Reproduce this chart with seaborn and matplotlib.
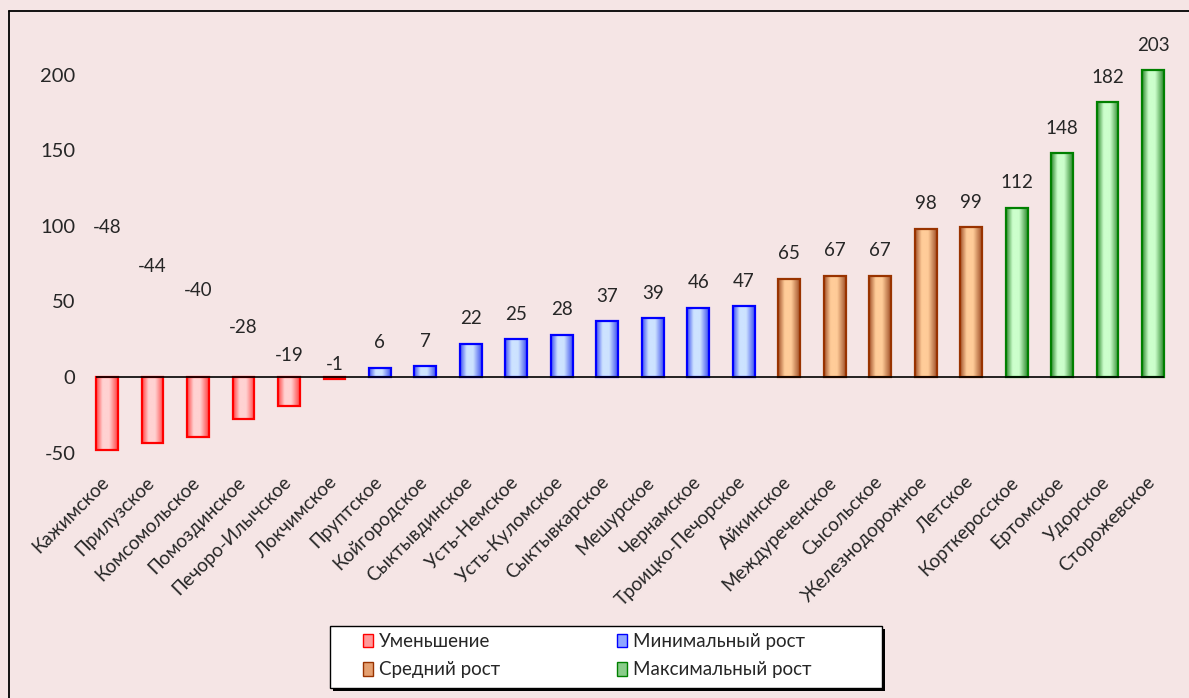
import numpy as np
import pandas as pd
import matplotlib
matplotlib.use('Agg')
import matplotlib.pyplot as plt
import matplotlib.transforms as mtransforms
import seaborn as sns
from matplotlib.colors import LinearSegmentedColormap
from matplotlib.patches import Patch, Rectangle
from matplotlib.lines import Line2D

# données
names = ['Кажимское', 'Прилузское', 'Комсомольское', 'Помоздинское', 'Печоро-Илычское',
         'Локчимское', 'Пруптское', 'Койгородское', 'Сыктывдинское', 'Усть-Немское',
         'Усть-Куломское', 'Сыктывкарское', 'Мешурское', 'Чернамское', 'Троицко-Печорское',
         'Айкинское', 'Междуреченское', 'Сысольское', 'Железнодорожное', 'Летское',
         'Корткеросское', 'Ертомское', 'Удорское', 'Сторожевское']
values = [-48, -44, -40, -28, -19, -1, 6, 7, 22, 25, 28, 37, 39, 46, 47,
          65, 67, 67, 98, 99, 112, 148, 182, 203]
groups = (['Уменьшение'] * 6 + ['Минимальный рост'] * 9 +
          ['Средний рост'] * 5 + ['Максимальный рост'] * 4)
legend_col1 = ['Уменьшение', 'Средний рост']
legend_col2 = ['Минимальный рост', 'Максимальный рост']
yticks = [-50, 0, 50, 100, 150, 200]

# couleurs: bord, côté foncé, centre clair
styles = {
    'Уменьшение': ('#FF0000', '#FF4545', '#FFD2D2'),
    'Минимальный рост': ('#0000FF', '#3F52F0', '#CDE3FF'),
    'Средний рост': ('#993300', '#A2522A', '#FFCC99'),
    'Максимальный рост': ('#008000', '#2E8A2E', '#CCFFCC'),
}
legend_fill = {
    'Уменьшение': '#FF9A9A',
    'Минимальный рост': '#8FA6FF',
    'Средний рост': '#E5A070',
    'Максимальный рост': '#8ACC8A',
}

df = pd.DataFrame({'name': names, 'value': values, 'group': groups})

bg = '#F5E5E5'
sns.set_style('white')
plt.rcParams['font.family'] = ['Lato', 'DejaVu Sans']

W, H = 1189, 698
fig = plt.figure(figsize=(W / 100, H / 100), dpi=100, facecolor=bg)
ax = fig.add_axes([0.0709, 0.330, 0.918, 0.606])
ax.set_facecolor(bg)

bar_w = 0.48
sns.barplot(data=df, x='name', y='value', hue='group', dodge=False, width=bar_w,
            palette={g: styles[g][2] for g in styles}, legend=False, ax=ax)

# dégradé sur chaque barre
for patch, g in zip(ax.patches, df['group']):
    edge, dark, light = styles[g]
    cmap = LinearSegmentedColormap.from_list(
        g, [(0, dark), (0.3, light), (0.6, light), (1, dark)])
    x0 = patch.get_x()
    w = patch.get_width()
    y0 = min(patch.get_y(), patch.get_y() + patch.get_height())
    y1 = max(patch.get_y(), patch.get_y() + patch.get_height())
    grad = np.linspace(0, 1, 64).reshape(1, -1)
    im = ax.imshow(grad, cmap=cmap, extent=[x0, x0 + w, y0, y1], aspect='auto',
                   interpolation='bicubic', zorder=2)
    im.set_clip_path(patch)
    patch.set_facecolor('none')
    patch.set_edgecolor(edge)
    patch.set_linewidth(1.6)
    patch.set_zorder(3)

# étiquettes de valeurs
neg_label_y = [99, 73, 57, 32.5, 14, 8]
for i, v in enumerate(values):
    if v < 0:
        ax.text(i, neg_label_y[i], str(v), ha='center', va='center', fontsize=13.5)
    else:
        ax.annotate(str(v), (i, v), xytext=(0, 18), textcoords='offset points',
                    ha='center', va='center', fontsize=13.5)

n = len(values)
ax.hlines(0, -bar_w / 2, n - 1 + bar_w / 2, color='black', lw=1.2, zorder=4)
ax.set_xlim(-0.5, n - 0.5)
ax.set_ylim(-60, 220)
ax.set_yticks(yticks)
ax.set_yticklabels([str(t) for t in yticks], fontsize=14.5)
ax.tick_params(axis='y', length=0, pad=6.5)
ax.tick_params(axis='x', length=0, pad=2)
ax.set_xticks(range(n))
ax.set_xticklabels(names, rotation=45, ha='right', rotation_mode='anchor', fontsize=13.5)
shift = mtransforms.ScaledTranslation(-7 / 100, -3 / 100, fig.dpi_scale_trans)
for lab in ax.get_xticklabels():
    lab.set_transform(lab.get_transform() + shift)
ax.set_xlabel('')
ax.set_ylabel('')
for s in ax.spines.values():
    s.set_visible(False)

# cadre extérieur
fig.add_artist(Line2D([9 / W, 9 / W], [0, 1 - 11 / H], color='black', lw=1.3))
fig.add_artist(Line2D([9 / W, 1], [1 - 11 / H, 1 - 11 / H], color='black', lw=1.3))

# légende : cadre blanc avec ombre, puis deux colonnes
fig.add_artist(Rectangle((333 / W, (H - 691) / H), 552 / W, 62 / H,
                         transform=fig.transFigure, facecolor='black', edgecolor='none',
                         zorder=5))
fig.add_artist(Rectangle((330 / W, (H - 688) / H), 552 / W, 62 / H,
                         transform=fig.transFigure, facecolor='white', edgecolor='black',
                         lw=1.0, zorder=6))
for col, x_left in [(legend_col1, 363), (legend_col2, 617)]:
    handles = [Patch(facecolor=legend_fill[g], edgecolor=styles[g][0], label=g) for g in col]
    leg = fig.legend(handles=handles, loc='upper left',
                     bbox_to_anchor=(x_left / W, (H - 633) / H),
                     fontsize=13.5, frameon=False, handlelength=0.55, handleheight=0.75,
                     handletextpad=0.3, borderpad=0, labelspacing=0.6, borderaxespad=0)
    leg.set_zorder(7)

plt.savefig('out.png', dpi=100, facecolor=bg)
plt.close()
